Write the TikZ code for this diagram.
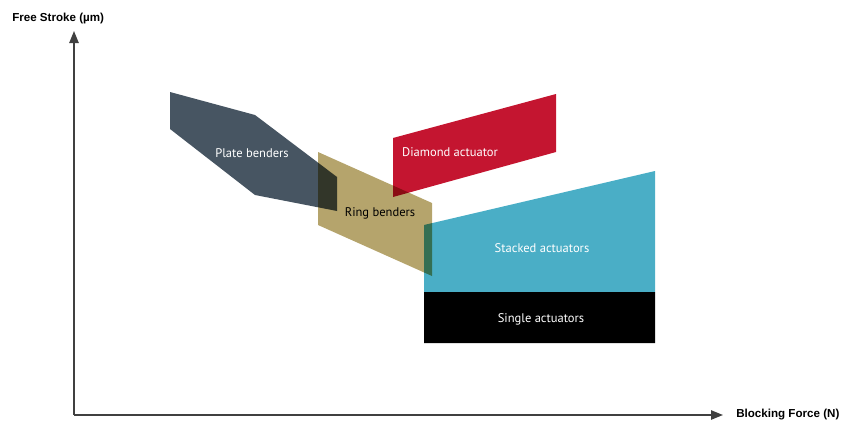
\documentclass[tikz,border=0pt]{standalone}
\usepackage{fontspec}
\setmainfont{PT Sans}
\newfontfamily\axisfont{Liberation Sans}
\usetikzlibrary{arrows.meta}
\definecolor{plateC}{RGB}{71,85,98}
\definecolor{ringC}{RGB}{181,164,108}
\definecolor{diamC}{RGB}{196,21,48}
\definecolor{stackC}{RGB}{74,174,198}
\definecolor{axisC}{RGB}{64,64,64}
\tikzset{
  region/.style={draw=none, blend mode=multiply},
  lab/.style={font=\fontsize{9.4}{11}\selectfont, inner sep=0pt},
  axislab/.style={font=\axisfont\bfseries\fontsize{8.7}{10}\selectfont, inner sep=0pt},
  axisline/.style={draw=axisC, line width=1.1pt, -{Triangle[length=9pt,width=7pt]}}
}
\begin{document}
\begin{tikzpicture}[x=0.75pt,y=-0.75pt]
\useasboundingbox (0,0) rectangle (861,421);
% regions
\begin{scope}[transparency group]
\fill[plateC, region] (170,92) -- (255,115) -- (337,177) -- (337,211) -- (255,195) -- (170,129) -- cycle;
\fill[ringC, region] (318,152) -- (432,203) -- (432,276) -- (318,225) -- cycle;
\fill[diamC, region] (393,138) -- (556,94) -- (556,152) -- (393,197) -- cycle;
\fill[stackC, region] (424,225) -- (655,171) -- (655,292) -- (424,292) -- cycle;
\fill[black] (424,292) rectangle (655,343);
\end{scope}
% labels
\node[lab, text=white] (plate) at (252,153) {Plate benders};
\node[lab, text=black] (ring) at (380,213) {Ring benders};
\node[lab, text=white] (diam) at (450,152) {Diamond actuator};
\node[lab, text=white] (stack) at (542,248) {Stacked actuators};
\node[lab, text=white] (single) at (541,319) {Single actuators};
% axes
\coordinate (origin) at (74,415);
\coordinate (ytip) at (74,31);
\coordinate (xtip) at (723,415);
\draw[axisline] (origin) -- (ytip);
\draw[axisline] (origin) -- (xtip);
\node[axislab, anchor=west] (ylab) at (12,19) {Free Stroke (µm)};
\node[axislab, anchor=west] (xlab) at (736,415) {Blocking Force (N)};
\end{tikzpicture}
\end{document}
